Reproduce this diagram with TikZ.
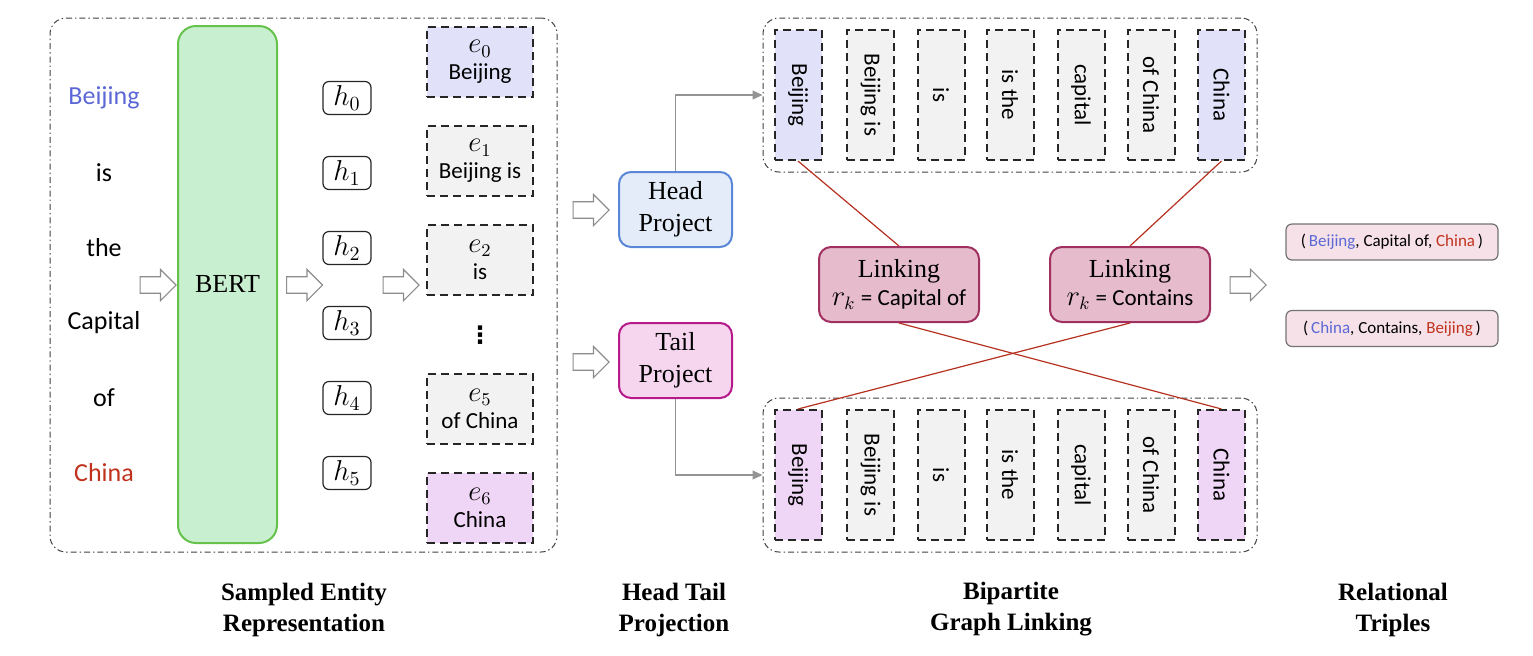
\documentclass[tikz,border=0pt]{standalone}
\usepackage{fontspec}
\usepackage{graphicx}
\setmainfont{Liberation Serif}
\newfontfamily\carl{Carlito}
\newfontfamily\dejav{DejaVu Sans}
\usetikzlibrary{shapes.arrows,arrows.meta}
\definecolor{entblue}{HTML}{5B68D6}
\definecolor{entred}{HTML}{C0321E}
\definecolor{lav}{HTML}{E1E1FA}
\definecolor{pinkfill}{HTML}{F0D6F6}
\definecolor{greyfill}{HTML}{F2F2F2}
\definecolor{bertfill}{HTML}{C8EFCF}
\definecolor{bertdraw}{HTML}{66C24A}
\definecolor{headfill}{HTML}{E3ECF8}
\definecolor{headdraw}{HTML}{5A86D8}
\definecolor{tailfill}{HTML}{F6D6EE}
\definecolor{taildraw}{HTML}{B5198A}
\definecolor{linkfill}{HTML}{E6BBCC}
\definecolor{linkdraw}{HTML}{A03060}
\definecolor{triplefill}{HTML}{F5E1E7}
\definecolor{redline}{HTML}{B5301E}
\tikzset{
  panel/.style={draw=black!75, line width=0.5pt, dash pattern=on 3pt off 1.5pt on 0.7pt off 1.5pt, rounded corners=8pt, inner sep=0pt},
  word/.style={font=\carl\fontsize{13}{15}\selectfont, inner sep=0pt},
  bertbox/.style={draw=bertdraw, fill=bertfill, line width=1pt, rounded corners=9pt, minimum width=49.5pt, minimum height=258.5pt, font=\fontsize{13}{15}\selectfont},
  hbox/.style={draw=black!85, line width=0.6pt, rounded corners=3pt, minimum width=24pt, minimum height=16.5pt, inner sep=0pt, font=\fontsize{14}{16}\selectfont},
  ebox/.style={draw=black!85, line width=1pt, dash pattern=on 4pt off 2.5pt, minimum width=53pt, minimum height=35pt, inner sep=0pt, align=center, font=\carl\fontsize{11.5}{13.5}\selectfont},
  emath/.style={},
  hollow/.style={single arrow, draw=black!45, fill=white, line width=0.6pt, minimum height=18pt, minimum width=15pt, single arrow head extend=3.7pt, single arrow head indent=0pt, inner xsep=0pt, inner ysep=3.8pt},
  projbox/.style={rounded corners=6pt, line width=1pt, minimum width=56.5pt, minimum height=37.5pt, align=center, font=\fontsize{13}{16}\selectfont},
  rowbox/.style={draw=black!85, line width=1pt, dash pattern=on 4pt off 2.5pt, minimum width=23.5pt, minimum height=65pt, inner sep=0pt, font=\carl\fontsize{11.5}{13.5}\selectfont},
  linkbox/.style={draw=linkdraw, fill=linkfill, line width=1pt, rounded corners=6pt, minimum width=80pt, minimum height=37.5pt, align=center, font=\fontsize{13}{15}\selectfont},
  triple/.style={draw=black!55, fill=triplefill, line width=0.6pt, rounded corners=3pt, minimum width=106pt, minimum height=18pt, inner sep=0pt, font=\carl\fontsize{8.5}{10}\selectfont},
  conn/.style={draw=black!42, line width=0.6pt, -{Triangle[length=5pt,width=4.5pt]}},
  redconn/.style={draw=redline, line width=0.6pt},
  title/.style={align=center, font=\bfseries\fontsize{12.5}{15.5}\selectfont}
}
\newcommand{\evar}[1]{{\fontsize{13.5}{13.5}\selectfont$e_{#1}$}}
\begin{document}
\begin{tikzpicture}[x=0.5pt,y=-0.5pt]
\useasboundingbox (0,0) rectangle (1533,655);
% left panel
\node[panel, minimum width=253.5pt, minimum height=267pt] (left) at (303.5,285) {};
\node[word, text=entblue] (w1) at (104,98) {Beijing};
\node[word] (w2) at (104,173) {is};
\node[word] (w3) at (104,248) {the};
\node[word] (w4) at (104,323) {Capital};
\node[word] (w5) at (104,398) {of};
\node[word, text=entred] (w6) at (104,473) {China};
\node[hollow] (a1) at (154,285) {};
\node[bertbox] (bert) at (227.5,284.5) {BERT};
\node[hollow] (a2) at (300.5,285) {};
\node[hbox] (h0) at (347,98) {$h_0$};
\node[hbox] (h1) at (347,173) {$h_1$};
\node[hbox] (h2) at (347,248) {$h_2$};
\node[hbox] (h3) at (347,323) {$h_3$};
\node[hbox] (h4) at (347,398) {$h_4$};
\node[hbox] (h5) at (347,473) {$h_5$};
\node[hollow] (a3) at (397,285) {};
\node[ebox, fill=lav] (e0) at (480,62) {\evar{0}\\Beijing};
\node[ebox, fill=greyfill] (e1) at (480,161) {\evar{1}\\Beijing is};
\node[ebox, fill=greyfill] (e2) at (480,260) {\evar{2}\\is};
\node[inner sep=0pt, font=\dejav\bfseries\fontsize{12}{12}\selectfont] (dots) at (480,335) {⋮};
\node[ebox, fill=greyfill] (e5) at (480,408.5) {\evar{5}\\of China};
\node[ebox, fill=pinkfill] (e6) at (480,508) {\evar{6}\\China};
% projection
\node[hollow] (a4) at (587,210) {};
\node[hollow] (a5) at (587,362) {};
\node[projbox, draw=headdraw, fill=headfill] (head) at (675.5,209.5) {Head\\Project};
\node[projbox, draw=taildraw, fill=tailfill] (tail) at (675.5,360.5) {Tail\\Project};
% bipartite rows
\node[panel, minimum width=247pt, minimum height=77pt] (toprow) at (1010,95) {};
\node[panel, minimum width=247pt, minimum height=77pt] (botrow) at (1010,475) {};
\node[rowbox, fill=lav] (t1) at (798,95) {\rotatebox{-90}{Beijing}};
\node[rowbox, fill=greyfill] (t2) at (870.5,95) {\rotatebox{-90}{Beijing is}};
\node[rowbox, fill=greyfill] (t3) at (941,95) {\rotatebox{-90}{is}};
\node[rowbox, fill=greyfill] (t4) at (1010,95) {\rotatebox{-90}{is the}};
\node[rowbox, fill=greyfill] (t5) at (1081,95) {\rotatebox{-90}{capital}};
\node[rowbox, fill=greyfill] (t6) at (1151,95) {\rotatebox{-90}{of China}};
\node[rowbox, fill=lav] (t7) at (1221.5,95) {\rotatebox{-90}{China}};
\node[rowbox, fill=pinkfill] (b1) at (798,475) {\rotatebox{-90}{Beijing}};
\node[rowbox, fill=greyfill] (b2) at (870.5,475) {\rotatebox{-90}{Beijing is}};
\node[rowbox, fill=greyfill] (b3) at (941,475) {\rotatebox{-90}{is}};
\node[rowbox, fill=greyfill] (b4) at (1010,475) {\rotatebox{-90}{is the}};
\node[rowbox, fill=greyfill] (b5) at (1081,475) {\rotatebox{-90}{capital}};
\node[rowbox, fill=greyfill] (b6) at (1151,475) {\rotatebox{-90}{of China}};
\node[rowbox, fill=pinkfill] (b7) at (1221.5,475) {\rotatebox{-90}{China}};
\node[linkbox] (link1) at (899,284.5) {Linking\\[-1pt]{\carl\fontsize{11.5}{13}\selectfont{\fontsize{13.5}{13}\selectfont$r_k$} = Capital of}};
\node[linkbox] (link2) at (1130,284.5) {Linking\\[-1pt]{\carl\fontsize{11.5}{13}\selectfont{\fontsize{13.5}{13}\selectfont$r_k$} = Contains}};
\draw[conn] (head.north) |- (toprow.west);
\draw[conn] (tail.south) |- (botrow.west);
\draw[redconn] (t1.south) -- (link1.north);
\draw[redconn] (t7.south) -- (link2.north);
\draw[redconn] (link1.south) -- (b7.north);
\draw[redconn] (link2.south) -- (b1.north);
% triples
\node[hollow] (a6) at (1244,285) {};
\node[triple] (tr1) at (1392,242) {(\,\textcolor{entblue}{Beijing}, Capital of, \textcolor{entred}{China}\,)};
\node[triple] (tr2) at (1392,328.5) {(\,\textcolor{entblue}{China}, Contains, \textcolor{entred}{Beijing}\,)};
% titles
\node[title] (tt1) at (304,609.5) {Sampled Entity\\Representation};
\node[title] (tt2) at (674,609.5) {Head Tail\\Projection};
\node[title] (tt3) at (1011,609.5) {Bipartite\\Graph Linking};
\node[title] (tt4) at (1393,609.5) {Relational\\Triples};
\end{tikzpicture}
\end{document}
